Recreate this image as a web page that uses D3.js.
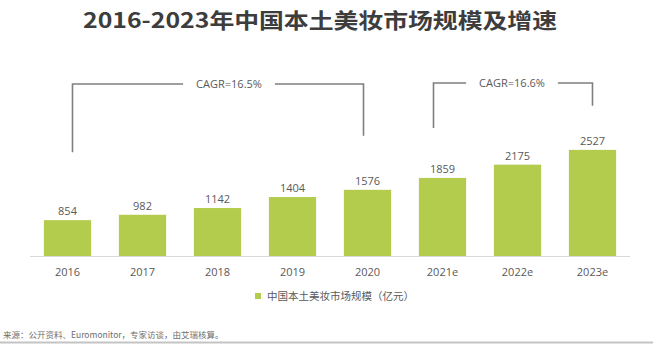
<!DOCTYPE html>
<html>
<head>
<meta charset="utf-8">
<script src="https://cdn.jsdelivr.net/npm/d3@7"></script>
<style>
  html, body { margin: 0; padding: 0; background: #fff; }
  svg { display: block; }
  text { font-family: "Open Sans", "Noto Sans CJK SC", sans-serif; }
  .cjk { font-family: "Noto Sans CJK SC", sans-serif; }
</style>
</head>
<body>
<svg id="chart" width="660" height="347"></svg>
<script>
// Market size of domestic Chinese cosmetics, 100 million yuan
const years = ["2016", "2017", "2018", "2019", "2020", "2021e", "2022e", "2023e"];
const marketSize = [854, 982, 1142, 1404, 1576, 1859, 2175, 2527];
const cagrLabels = ["CAGR=16.5%", "CAGR=16.6%"];
const cagrSpans = [["2016", "2020"], ["2021e", "2023e"]];

const titleText = "2016-2023年中国本土美妆市场规模及增速";
const legendText = "中国本土美妆市场规模（亿元）";
const sourceText = "来源：公开资料、Euromonitor，专家访谈，由艾瑞核算。";

const green = "#b4cc4e";
const svg = d3.select("#chart");

const x = d3.scaleBand()
  .domain(years)
  .range([30, 630])
  .paddingInner(0.37)
  .paddingOuter(0.185);

const y = d3.scaleLinear().domain([0, 3000]).range([256, 130]);

// Title
svg.append("text")
  .attr("class", "cjk")
  .attr("x", 83).attr("y", 28)
  .attr("textLength", 474)
  .attr("lengthAdjust", "spacingAndGlyphs")
  .attr("font-size", 21)
  .attr("font-weight", 700)
  .attr("fill", "#3d3d3d")
  .text(titleText);

// Bars
svg.append("g").selectAll("rect")
  .data(years)
  .join("rect")
  .attr("x", d => x(d))
  .attr("width", x.bandwidth())
  .attr("y", (d, i) => y(marketSize[i]))
  .attr("height", (d, i) => y(0) - y(marketSize[i]))
  .attr("fill", green);

// Value labels
svg.append("g").selectAll("text")
  .data(years)
  .join("text")
  .attr("x", d => x(d) + x.bandwidth() / 2)
  .attr("y", (d, i) => y(marketSize[i]) - 5)
  .attr("text-anchor", "middle")
  .attr("font-size", 11)
  .attr("fill", "#595959")
  .text((d, i) => marketSize[i]);

// Category axis
const axis = svg.append("g")
  .attr("transform", `translate(0,${y(0)})`)
  .call(d3.axisBottom(x).tickSize(0).tickPadding(12));
axis.select(".domain").attr("stroke", "#d9d9d9").attr("stroke-width", 1.2)
  .attr("d", "M30,0.5H630");
axis.selectAll(".tick text")
  .attr("font-size", 11)
  .attr("fill", "#595959")
  .attr("font-family", "'Open Sans', sans-serif");

// CAGR brackets
const bracketStyle = [
  { dxL: 5, dxR: -4, top: 84, gapL: 68, gapR: 54, textShift: 11 },
  { dxL: -9, dxR: 0, top: 83, gapL: 50, gapR: 44, textShift: -1 }
];
const center = d => x(d) + x.bandwidth() / 2;
cagrSpans.forEach((span, k) => {
  const s = bracketStyle[k];
  const i0 = years.indexOf(span[0]), i1 = years.indexOf(span[1]);
  const xl = center(span[0]) + s.dxL;
  const xr = center(span[1]) + s.dxR;
  const yl = y(marketSize[i0]) - s.gapL;
  const yr = y(marketSize[i1]) - s.gapR;
  const tx = (xl + xr) / 2 + s.textShift;
  const g = svg.append("g");
  const label = g.append("text")
    .attr("x", tx).attr("y", s.top + 4)
    .attr("text-anchor", "middle")
    .attr("font-size", 11)
    .attr("fill", "#595959")
    .text(cagrLabels[k]);
  const half = label.node().getComputedTextLength() / 2 + 13;
  g.append("path")
    .attr("d", `M${xl},${yl}V${s.top}H${tx - half}M${tx + half},${s.top}H${xr}V${yr}`)
    .attr("fill", "none")
    .attr("stroke", "#7f7f7f")
    .attr("stroke-width", 1.6);
});

// Legend
const legend = svg.append("g");
legend.append("rect")
  .attr("x", 255).attr("y", 293)
  .attr("width", 6).attr("height", 6)
  .attr("fill", green);
legend.append("text")
  .attr("class", "cjk")
  .attr("x", 267).attr("y", 300)
  .attr("font-size", 10.5)
  .attr("fill", "#595959")
  .text(legendText);

// Source note and rule
svg.append("text")
  .attr("class", "cjk")
  .attr("x", 3).attr("y", 338)
  .attr("font-size", 8.5)
  .attr("fill", "#6e6e6e")
  .text(sourceText);
svg.append("line")
  .attr("x1", 0).attr("x2", 653)
  .attr("y1", 342.5).attr("y2", 342.5)
  .attr("stroke", "#c4c4c4")
  .attr("stroke-width", 2);
</script>
</body>
</html>
